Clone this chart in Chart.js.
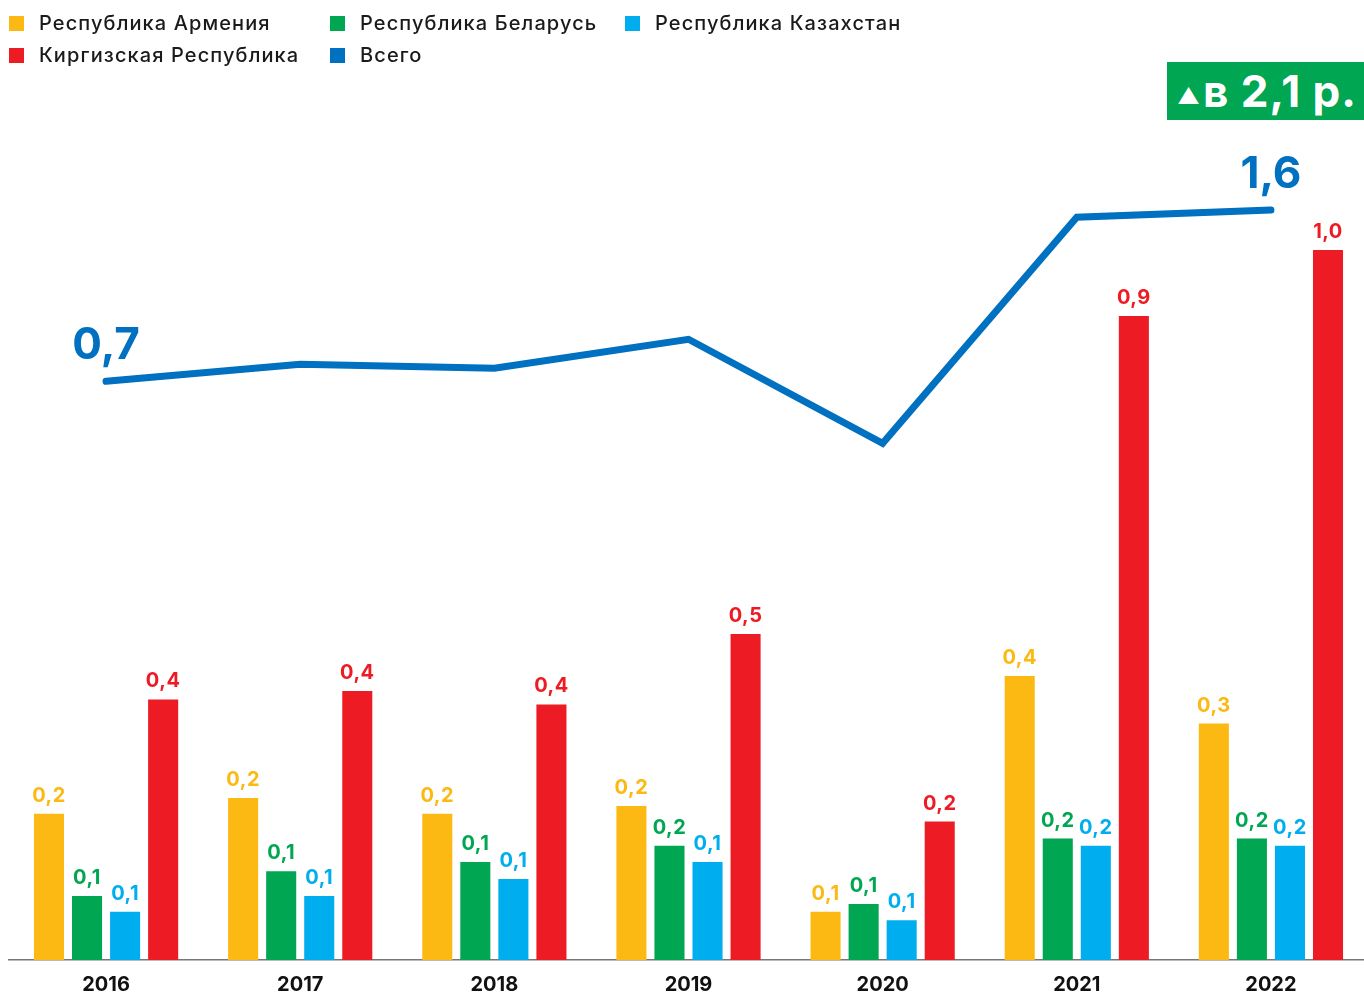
<!DOCTYPE html>
<html lang="ru">
<head>
<meta charset="utf-8">
<script src="https://cdn.jsdelivr.net/npm/chart.js@4.4.1/dist/chart.umd.min.js"></script>
<style>
    html, body {
        margin: 0;
        padding: 0;
        background: #fff;
        overflow: hidden;
    }

    .wrap {
        position: relative;
        width: 1364px;
        height: 992px;
        overflow: hidden;
        font-family: Inter, "Noto Sans", sans-serif;
    }

    #chartCanvas {
        position: absolute;
        left: 0;
        top: 0;
    }

    .legend-item {
        position: absolute;
        font-size: 20px;
        font-weight: 500;
        letter-spacing: 1.1px;
        color: #1a1a1a;
        line-height: 24px;
        white-space: nowrap;
    }

    .legend-item i {
        position: absolute;
        left: -30px;
        top: 5px;
        width: 15px;
        height: 15px;
    }

    .badge {
        position: absolute;
        left: 1167px;
        top: 62px;
        width: 197px;
        height: 58px;
        background: #00A651;
        color: #fff;
        font-weight: 700;
        font-size: 44px;
        letter-spacing: 1px;
        line-height: 58px;
        white-space: nowrap;
    }

    .badge span.tri {
        font-size: 22px;
        margin: 0 2px 0 10px;
        vertical-align: 3px;
    }
</style>
</head>
<body>

<div class="wrap">
    <canvas id="chartCanvas" width="1368" height="992"></canvas>

    <div class="legend-item" style="left:39px; top:11px"><i style="background:#FDB913"></i>Республика Армения</div>
    <div class="legend-item" style="left:360px; top:11px"><i style="background:#00A651"></i>Республика Беларусь</div>
    <div class="legend-item" style="left:655px; top:11px"><i style="background:#00AEEF"></i>Республика Казахстан</div>
    <div class="legend-item" style="left:39px; top:43px"><i style="background:#ED1C24"></i>Киргизская Республика</div>
    <div class="legend-item" style="left:360px; top:43px"><i style="background:#0070C0"></i>Всего</div>

    <div class="badge" id="badge"></div>
</div>

<script>
    // годы
    var years = ['2016', '2017', '2018', '2019', '2020', '2021', '2022'];

    // по странам
    var armenia    = [0.206, 0.228, 0.206, 0.217, 0.068, 0.400, 0.333];
    var belarus    = [0.090, 0.125, 0.138, 0.161, 0.079, 0.171, 0.171];
    var kazakhstan = [0.068, 0.090, 0.114, 0.138, 0.056, 0.161, 0.161];
    var kyrgyzstan = [0.367, 0.379, 0.360, 0.459, 0.195, 0.907, 1.000];

    // итого
    var total = [0.745, 0.83, 0.81, 0.955, 0.435, 1.565, 1.60];

    var fmt = function (v) {
        return v.toFixed(1).replace('.', ',');
    };

    // во сколько раз вырос итог
    document.getElementById('badge').innerHTML =
        '<span class="tri">▲</span>в ' + fmt(total[total.length - 1] / total[0]) + ' р.';

    // подписи над столбцами и крайние значения линии
    var valueLabels = {
        id: 'valueLabels',
        afterDatasetsDraw: function (chart) {
            var ctx = chart.ctx;
            ctx.save();
            ctx.textAlign = 'center';
            ctx.textBaseline = 'alphabetic';

            chart.data.datasets.forEach(function (ds, i) {
                var meta = chart.getDatasetMeta(i);
                if (ds.type === 'line') {
                    ctx.font = 'bold 44px Inter, sans-serif';
                    ctx.letterSpacing = '0px';
                    ctx.fillStyle = ds.borderColor;
                    [0, ds.data.length - 1].forEach(function (j) {
                        var pt = meta.data[j];
                        ctx.fillText(fmt(ds.data[j]), pt.x, pt.y - 22);
                    });
                    return;
                }
                ctx.font = 'bold 20px Inter, sans-serif';
                ctx.letterSpacing = '0.5px';
                ctx.fillStyle = ds.backgroundColor;
                meta.data.forEach(function (bar, j) {
                    ctx.fillText(fmt(ds.data[j]), bar.x, bar.y - 12);
                });
            });
            ctx.restore();
        }
    };

    var barDefaults = {
        type: 'bar',
        yAxisID: 'y',
        categoryPercentage: 0.784,
        barPercentage: 0.79,
        borderWidth: 0,
        order: 2
    };

    var ctx = document.getElementById('chartCanvas').getContext('2d');

    new Chart(ctx, {
        data: {
            labels: years,
            datasets: [
                Object.assign({ label: 'Республика Армения', data: armenia, backgroundColor: '#FDB913' }, barDefaults),
                Object.assign({ label: 'Республика Беларусь', data: belarus, backgroundColor: '#00A651' }, barDefaults),
                Object.assign({ label: 'Республика Казахстан', data: kazakhstan, backgroundColor: '#00AEEF' }, barDefaults),
                Object.assign({ label: 'Киргизская Республика', data: kyrgyzstan, backgroundColor: '#ED1C24' }, barDefaults),
                {
                    type: 'line',
                    label: 'Всего',
                    data: total,
                    yAxisID: 'y2',
                    borderColor: '#0070C0',
                    borderWidth: 7,
                    borderCapStyle: 'round',
                    borderJoinStyle: 'miter',
                    pointRadius: 0,
                    tension: 0,
                    order: 1
                }
            ]
        },
        options: {
            responsive: false,
            animation: false,
            layout: {
                padding: { top: 108, left: 9, right: 0, bottom: -18 }
            },
            plugins: {
                legend: { display: false },
                tooltip: { enabled: false }
            },
            scales: {
                x: {
                    grid: { display: false, drawTicks: false },
                    border: { display: true, color: '#777', width: 1.5 },
                    ticks: {
                        color: '#111',
                        padding: 13,
                        font: { family: 'Inter', size: 20, weight: 'bold' }
                    }
                },
                y: {
                    display: false,
                    min: 0,
                    max: 1.2
                },
                y2: {
                    display: false,
                    min: -2.145,
                    max: 2.11
                }
            }
        },
        plugins: [valueLabels]
    });
</script>
</body>
</html>
